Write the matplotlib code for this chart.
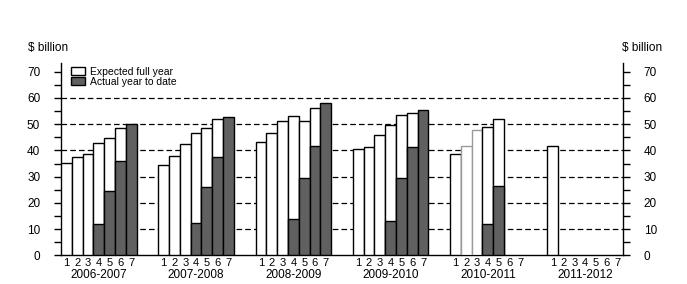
import numpy as np
import matplotlib
matplotlib.use("Agg")
import matplotlib.pyplot as plt
from matplotlib.patches import Patch
import matplotlib.transforms as mtransforms

plt.rcParams['font.family'] = ['Liberation Sans', 'DejaVu Sans']

years = ["2006-2007", "2007-2008", "2008-2009", "2009-2010", "2010-2011", "2011-2012"]
months = ["1", "2", "3", "4", "5", "6", "7"]
nan = np.nan
expected = [
    [35.1, 37.5, 38.5, 42.7, 44.6, 48.4, nan],
    [34.3, 37.7, 42.3, 46.5, 48.4, 51.8, nan],
    [43.1, 46.5, 51.2, 53.0, 51.2, 56.0, nan],
    [40.4, 41.2, 45.7, 49.7, 53.4, 54.1, nan],
    [38.5, 41.6, 47.9, 48.8, 51.8, nan, nan],
    [41.6, nan, nan, nan, nan, nan, nan],
]
actual = [
    [nan, nan, nan, 11.8, 24.4, 35.8, 50.0],
    [nan, nan, nan, 12.2, 25.9, 37.4, 52.6],
    [nan, nan, nan, 13.7, 29.4, 41.6, 57.9],
    [nan, nan, nan, 13.0, 29.4, 41.2, 55.4],
    [nan, nan, nan, 11.8, 26.4, nan, nan],
    [nan, nan, nan, nan, nan, nan, nan],
]
gray_edge = {(4, 1), (4, 2)}

fig = plt.figure(figsize=(6.87, 2.84), dpi=100)
ax = fig.add_axes([0.0888, 0.101, 0.818, 0.676])

dark = "#606060"
xt, xl = [], []
for g, yr in enumerate(years):
    for b in range(7):
        x = g * 9 + b
        xt.append(x)
        xl.append(months[b])
        ec = "#9a9a9a" if (g, b) in gray_edge else "black"
        e = expected[g][b]
        a = actual[g][b]
        if not np.isnan(e):
            ax.bar(x, e, width=1.0, color="white", edgecolor=ec, linewidth=1.0, zorder=3)
        if not np.isnan(a):
            ax.bar(x, a, width=1.0, color=dark, edgecolor="black", linewidth=1.0, zorder=4)

ax.set_xlim(-0.5, 51.5)
ax.set_ylim(0, 73.2)
for yv in range(10, 70, 10):
    ax.axhline(yv, color="black", linestyle=(0, (4.5, 2.5)), linewidth=0.9, zorder=2)

ax.spines['top'].set_visible(False)
for s in ['left', 'right', 'bottom']:
    ax.spines[s].set_linewidth(1.0)

ax.set_yticks(np.arange(0, 71, 10))
ax.set_yticks(np.arange(0, 71, 5), minor=True)
ax.tick_params(axis='y', which='both', direction='out', length=5, width=1.0,
               left=True, right=True, labelleft=True, labelright=True, labelsize=8.5, pad=10)
ax.set_xticks(xt)
ax.set_xticklabels(xl, fontsize=8)
ax.tick_params(axis='x', length=0, pad=2)

trans = mtransforms.blended_transform_factory(ax.transData, ax.transAxes)
for g, yr in enumerate(years):
    ax.text(g * 9 + 3, -0.07, yr, transform=trans, ha='center', va='top', fontsize=8.5)

fig.text(0.041, 0.831, "$ billion", fontsize=8.5, ha='left', va='center')
fig.text(0.905, 0.831, "$ billion", fontsize=8.5, ha='left', va='center')

handles = [Patch(facecolor="white", edgecolor="black", linewidth=1.0, label="Expected full year"),
           Patch(facecolor=dark, edgecolor="black", linewidth=1.0, label="Actual year to date")]
leg = ax.legend(handles=handles, loc='upper left', bbox_to_anchor=(0.005, 1.02), frameon=False,
                fontsize=7.5, handlelength=1.3, handleheight=0.75, labelspacing=0.0,
                handletextpad=0.5, borderpad=0.2)

fig.savefig("out.png", dpi=100)
